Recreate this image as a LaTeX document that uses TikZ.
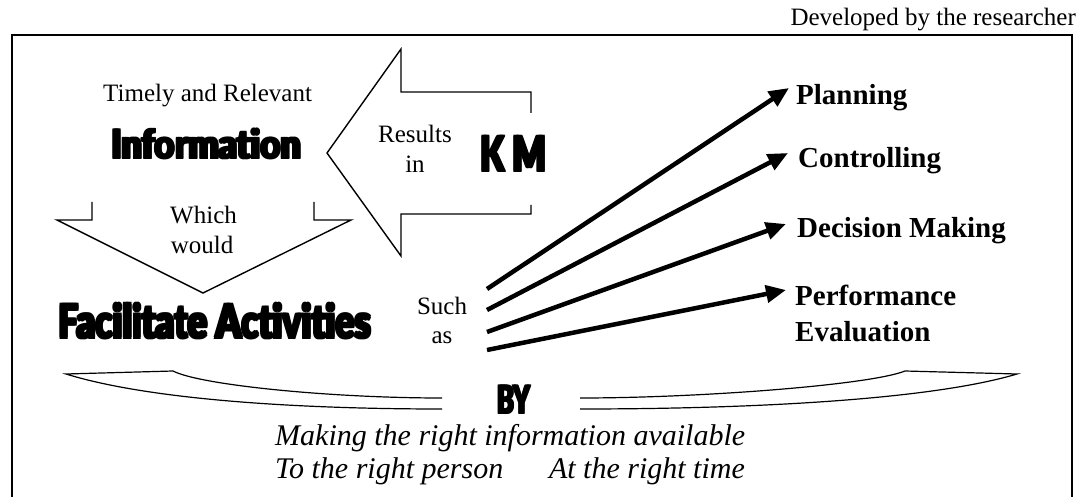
\documentclass[tikz,border=0pt]{standalone}
\usepackage{fontspec}
\usepackage{graphicx}
\setmainfont{Liberation Serif}
% heaviest available sans for the poster-style headlines
\IfFontExistsTF{Fira Sans Ultra}
  {\newfontfamily\heavyfont{Fira Sans Ultra}[Ligatures=NoCommon]}
  {\IfFontExistsTF{Fira Sans Heavy}
    {\newfontfamily\heavyfont{Fira Sans Heavy}[Ligatures=NoCommon]}
    {\newfontfamily\heavyfont{Lato Black}[Ligatures=NoCommon]}}
\usetikzlibrary{arrows.meta}

% widen the strokes of a word by overlaying it at four small offsets
\newcommand{\thicken}[1]{%
  \setbox0=\hbox{#1}%
  \hbox{\rlap{\copy0}\rlap{\kern0.7pt\copy0}\rlap{\raise0.35pt\copy0}%
    \kern0.7pt\raise0.35pt\copy0}}
% heavy condensed headline: width, height, text
\newcommand{\heavytext}[3]{\resizebox{#1pt}{#2pt}{\heavyfont\thicken{#3}}}

\begin{document}
\begin{tikzpicture}[x=1pt,y=-1pt,
  txt/.style={inner sep=0pt, anchor=base west, font=\fontsize{25}{30}\selectfont},
  txtc/.style={inner sep=0pt, anchor=base, font=\fontsize{25}{30}\selectfont},
  lbl/.style={inner sep=0pt, anchor=base west, font=\fontsize{29}{36}\selectfont\bfseries},
  itl/.style={inner sep=0pt, font=\fontsize{30}{34}\selectfont\itshape},
  headline/.style={inner sep=0pt, anchor=south west},
  outline/.style={draw, line width=1.4pt, line join=miter},
  link/.style={line width=4.5pt, -{Triangle[length=20pt,width=17pt]}}
]
\useasboundingbox (0,0) rectangle (1084,497);

% frame
\draw[line width=1.5pt] (12,510) -- (12,35) -- (1072,35) -- (1072,510);
\node[inner sep=0pt, anchor=base east, font=\fontsize{25}{30}\selectfont] (credit) at (1076,26) {Developed by the researcher};

% left block arrow from K M to Information
\draw[outline] (531,113) -- (531,92) -- (401,92) -- (401,49) -- (327,153)
  -- (401,256) -- (401,214) -- (531,214) -- (531,205);
% down block arrow from Information to Facilitate Activities
\draw[outline] (92,202) -- (92,220) -- (57,220) -- (203,293) -- (351,220)
  -- (314,220) -- (314,202);

% headings
\node[txt] (timely) at (103,102) {Timely and Relevant};
\node[headline] (info) at (110,160) {\heavytext{192}{32}{Information}};
\node[txt] (results) at (378,143) {Results};
\node[txtc] (resin) at (415,173) {in};
\node[headline] (km) at (479,173) {\heavytext{68}{38}{K M}};
\node[txt] (which) at (170,223) {Which};
\node[txtc] (would) at (202,253) {would};
\node[headline] (facil) at (57,340) {\heavytext{315}{37}{Facilitate Activities}};
\node[txtc] (such) at (442,314) {Such};
\node[txtc] (suchas) at (442,343) {as};

% activities
\node[lbl] (plan) at (796,105) {Planning};
\node[lbl] (ctrl) at (798,168) {Controlling};
\node[lbl] (dec) at (797,237) {Decision Making};
\node[lbl] (perf) at (795,305) {Performance};
\node[lbl] (perf2) at (795,341) {Evaluation};

\coordinate (s1) at (487,289);
\coordinate (s2) at (487,310);
\coordinate (s3) at (487,332);
\coordinate (s4) at (487,350);
\coordinate (t1) at (789,88);
\coordinate (t2) at (788,153);
\coordinate (t3) at (786,224);
\coordinate (t4) at (786,290);
\draw[link] (s1) -- (t1);
\draw[link] (s2) -- (t2);
\draw[link] (s3) -- (t3);
\draw[link] (s4) -- (t4);

% brace with BY
\draw[outline, line width=1.2pt] (442,398) .. controls (330,398) and (200,385) .. (173,371)
  -- (66,374) .. controls (150,400) and (300,409) .. (442,409);
\draw[outline, line width=1.2pt] (580,398) .. controls (700,398) and (870,385) .. (905,371)
  -- (1017,374) .. controls (930,400) and (750,409) .. (580,409);
\node[headline] (by) at (496,415) {\heavytext{35}{30}{BY}};

% closing statement
\node[itl, anchor=base west] (line1) at (275,445) {Making the right information available};
\node[itl, anchor=base west] (line2) at (275,478) {To the right person};
\node[itl, anchor=base east] (line3) at (745,478) {At the right time};
\end{tikzpicture}
\end{document}
